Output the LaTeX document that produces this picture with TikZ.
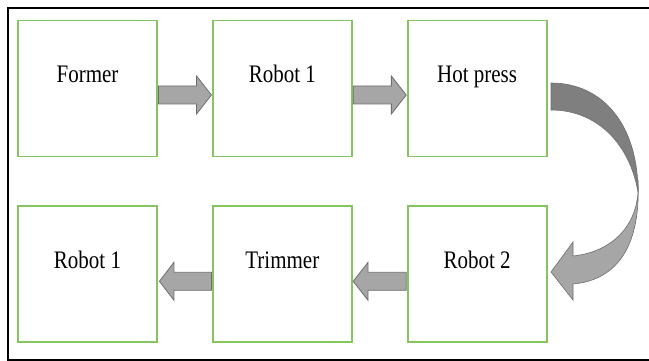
\documentclass[tikz,border=0pt]{standalone}
\usepackage{fontspec}
\setmainfont{LiberationSerif-Regular.ttf}
\newfontfamily\stagefont{LiberationSerif-Regular.ttf}
\usepackage{tikz}
\usetikzlibrary{calc,positioning}

\definecolor{boxgreen}{RGB}{134,196,96}
\definecolor{arrowgray}{RGB}{166,166,166}
\definecolor{arrowdark}{RGB}{127,127,127}
\definecolor{arrowline}{RGB}{110,110,110}

\tikzset{
  stage/.style={draw=boxgreen, line width=1.8pt, inner sep=0pt,
    minimum width=139pt, text height=62pt, text depth=74pt,
    font=\stagefont\fontsize{21}{25}\selectfont},
  blockarrow/.style={fill=arrowgray, draw=arrowline, line width=0.8pt, line join=miter}
}

% stretched label text
\newcommand{\stagetext}[1]{\scalebox{1}[1.2]{#1}}

% block arrow from #1 to #2
\newcommand{\flowarrow}[2]{%
  \coordinate (h) at ($(#1)!0.72!(#2)$);
  \draw[blockarrow] ($(#1)!9pt!90:(#2)$) -- ($(h)!9pt!90:(#2)$) -- ($(h)!19pt!90:(#2)$)
    -- (#2) -- ($(h)!19pt!-90:(#2)$) -- ($(h)!9pt!-90:(#2)$) -- ($(#1)!9pt!-90:(#2)$) -- cycle;
}

\begin{document}
\begin{tikzpicture}[x=1pt,y=-1pt]
\useasboundingbox (0,0) rectangle (649,361);
% frame
\draw[line width=2pt] (660,8) -- (8,8) -- (8,359.5) -- (660,359.5);

% top row
\node[stage] (former) at (87.5,88.5) {\stagetext{Former}};
\node[stage, right=54pt of former] (robotA) {\stagetext{Robot 1}};
\node[stage, right=54pt of robotA] (hotpress) {\stagetext{Hot press}};
% bottom row
\node[stage, below=48pt of hotpress] (robotC) {\stagetext{Robot 2}};
\node[stage, left=54pt of robotC] (trimmer) {\stagetext{Trimmer}};
\node[stage, left=54pt of trimmer] (robotB) {\stagetext{Robot 1}};

% straight arrows
\coordinate (a1s) at ([shift={(0.5pt,-6.5pt)}]former.east);
\coordinate (a1e) at ([shift={(-0.5pt,-6.5pt)}]robotA.west);
\coordinate (a2s) at ([shift={(0.5pt,-6.5pt)}]robotA.east);
\coordinate (a2e) at ([shift={(-0.5pt,-6.5pt)}]hotpress.west);
\coordinate (a3s) at ([shift={(-0.5pt,-7pt)}]robotC.west);
\coordinate (a3e) at ([shift={(0.5pt,-7pt)}]trimmer.east);
\coordinate (a4s) at ([shift={(-0.5pt,-7pt)}]trimmer.west);
\coordinate (a4e) at ([shift={(1.5pt,-7pt)}]robotB.east);
\flowarrow{a1s}{a1e}
\flowarrow{a2s}{a2e}
\flowarrow{a3s}{a3e}
\flowarrow{a4s}{a4e}

% curved arrow from hot press down to robot 2
\draw[fill=arrowdark, draw=arrowline, line width=0.6pt]
  (551,83) .. controls (603,83) and (638,125) .. (638,192)
  .. controls (630,145) and (598,110) .. (551,110) -- cycle;
\draw[fill=arrowgray, draw=arrowline, line width=0.6pt]
  (638,180) .. controls (641,225) and (612,252) .. (573,256)
  -- (573,242) -- (551,272) -- (573,300) -- (573,284)
  .. controls (618,280) and (641,245) .. (638,180) -- cycle;
\end{tikzpicture}
\end{document}
